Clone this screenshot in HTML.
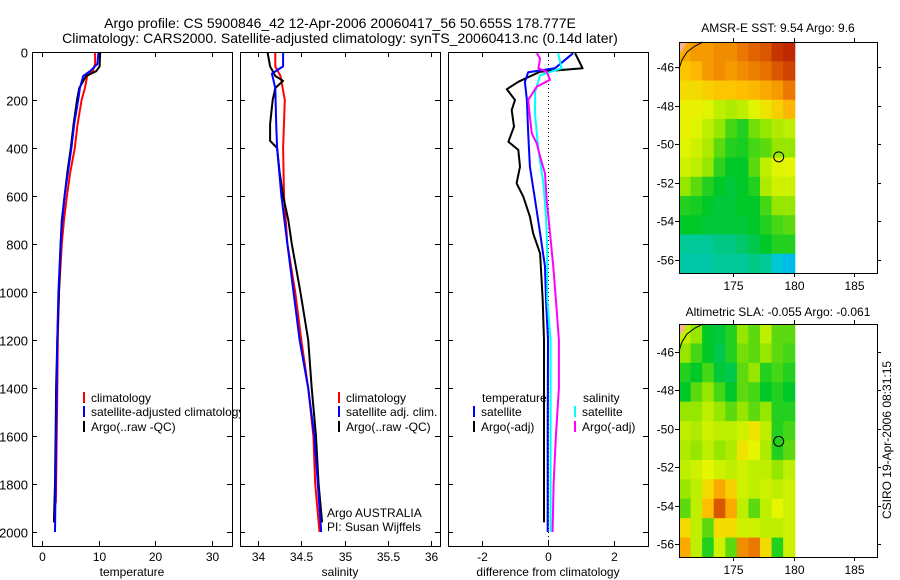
<!DOCTYPE html>
<html><head><meta charset="utf-8"><style>
html,body{margin:0;padding:0;background:#fff;}
svg{display:block;font-family:"Liberation Sans",sans-serif;}
text{fill:#000;}
</style></head><body>
<svg id="fig" width="900" height="580" viewBox="0 0 900 580">
<text x="340" y="28" font-size="14" text-anchor="middle">Argo profile: CS 5900846_42 12-Apr-2006 20060417_56 50.655S 178.777E</text>
<text x="340" y="43" font-size="14" text-anchor="middle">Climatology: CARS2000. Satellite-adjusted climatology: synTS_20060413.nc (0.14d later)</text>
<text x="778" y="32" font-size="12" text-anchor="middle">AMSR-E SST: 9.54  Argo: 9.6</text>
<text x="778" y="316" font-size="12" text-anchor="middle">Altimetric SLA: -0.055  Argo: -0.061</text>
<text transform="translate(891,440) rotate(-90)" font-size="12" text-anchor="middle">CSIRO 19-Apr-2006 08:31:15</text>
<g id="layer"></g>
</svg>
<script>
// ---- profile data ----
const tDepth = [0,50,80,100,150,200,300,400,500,600,700,800,1000,1200,1400,1600,1800,1880];
const tClim  = [9.4,9.4,9.0,8.0,7.6,7.0,6.3,5.8,5.0,4.4,3.9,3.5,3.0,2.8,2.7,2.6,2.5,2.45];
const tDepthS = [0,50,80,100,150,200,300,400,500,600,700,800,1000,1200,1400,1600,1800,2000];
const tSat   = [10.0,9.8,8.5,7.3,6.7,6.4,5.7,5.2,4.6,4.0,3.6,3.3,2.9,2.7,2.6,2.5,2.4,2.3];
const tDepthA = [0,60,80,100,150,200,300,400,500,600,700,800,1000,1200,1400,1600,1800,1960];
const tArgo  = [10.3,10.2,9.6,7.8,6.6,6.2,5.6,5.1,4.5,4.0,3.5,3.3,3.0,2.7,2.5,2.4,2.3,2.1];

const sDepthC = [0,60,100,200,400,600,800,1000,1200,1400,1600,1800,2000];
const sClim   = [34.2,34.2,34.26,34.31,34.29,34.3,34.34,34.43,34.5,34.58,34.64,34.66,34.71];
const sDepthS = [0,60,90,150,300,400,600,800,1000,1200,1400,1600,1800,2000];
const sSat    = [34.29,34.29,34.16,34.2,34.21,34.22,34.27,34.34,34.41,34.48,34.58,34.65,34.69,34.73];
const sDepthA = [0,60,100,120,150,200,300,370,400,500,600,700,800,1000,1200,1400,1600,1800,1960];
const sArgo   = [34.11,34.14,34.2,34.29,34.2,34.17,34.14,34.14,34.22,34.25,34.29,34.35,34.39,34.49,34.58,34.62,34.67,34.7,34.74];

const dDepthT = [5,68,82,124,155,200,242,311,374,408,478,547,603,686,755,839,1033,1200,1600,1960];
const dArgoT  = [0.82,1.05,-0.24,-0.9,-1.25,-1.0,-1.1,-1.03,-1.2,-0.9,-0.85,-0.95,-0.75,-0.55,-0.45,-0.24,-0.16,-0.12,-0.12,-0.12];
const dDepthST = [5,68,84,125,200,339,478,617,755,894,1033,1200,1600,2000];
const dSatT   = [0.76,0.21,-0.6,-0.7,-0.64,-0.6,-0.55,-0.39,-0.24,-0.09,-0.06,0.0,-0.01,-0.01];
const dDepthSS = [5,68,97,167,264,408,547,686,825,1033,1200,1600,2000];
const dSatS   = [0.31,0.41,-0.24,-0.39,-0.39,-0.29,-0.14,-0.06,-0.02,-0.02,0.08,0.08,0.08];
const dDepthAS = [5,27,68,82,116,144,200,269,339,381,436,506,617,755,894,1033,1200,1400,1600,1800,2000];
const dArgoS  = [-0.34,-0.24,-0.29,-0.04,0.06,-0.34,-0.6,-0.55,-0.49,-0.34,-0.24,-0.09,-0.04,0.06,0.16,0.24,0.33,0.33,0.24,0.17,0.14];

const depthTicks = [0,200,400,600,800,1000,1200,1400,1600,1800,2000];
const tTicks = [0,10,20,30];
const sTicks = [34,34.5,35,35.5,36];
const sTickLabels = ["34","34.5","35","35.5","36"];
const dTicks = [-2,0,2];

// ---- map data (values 0..1 on colormap), rows north->south ----
const sstGrid = [
[0.78,0.8,0.8,0.82,0.82,0.85,0.88,0.9,0.95,0.97],
[0.74,0.76,0.8,0.82,0.8,0.82,0.84,0.86,0.9,0.93],
[0.7,0.7,0.72,0.74,0.74,0.75,0.76,0.78,0.8,0.85],
[0.66,0.66,0.64,0.6,0.58,0.6,0.64,0.68,0.72,0.76],
[0.66,0.64,0.6,0.55,0.48,0.45,0.52,0.55,0.58,0.6],
[0.64,0.62,0.58,0.5,0.45,0.44,0.48,0.5,0.55,0.55],
[0.62,0.6,0.55,0.46,0.42,0.42,0.5,0.6,0.64,0.65],
[0.55,0.5,0.45,0.42,0.4,0.42,0.45,0.58,0.62,0.62],
[0.45,0.44,0.42,0.4,0.4,0.42,0.42,0.48,0.55,0.55],
[0.42,0.42,0.4,0.4,0.4,0.4,0.42,0.45,0.48,0.5],
[0.3,0.3,0.3,0.32,0.32,0.35,0.38,0.42,0.45,0.45],
[0.28,0.28,0.28,0.3,0.3,0.3,0.32,0.3,0.22,0.18]];
const slaGrid = [
[0.6,0.55,0.42,0.4,0.45,0.55,0.5,0.6,0.5,0.5],
[0.55,0.48,0.42,0.38,0.45,0.52,0.5,0.55,0.5,0.48],
[0.45,0.42,0.48,0.4,0.38,0.5,0.55,0.45,0.48,0.45],
[0.42,0.5,0.55,0.48,0.42,0.5,0.48,0.42,0.45,0.42],
[0.55,0.55,0.6,0.55,0.5,0.55,0.5,0.55,0.45,0.45],
[0.6,0.58,0.62,0.6,0.6,0.62,0.68,0.6,0.45,0.48],
[0.58,0.55,0.6,0.55,0.58,0.68,0.65,0.58,0.45,0.5],
[0.6,0.62,0.65,0.62,0.6,0.62,0.6,0.6,0.55,0.6],
[0.55,0.6,0.7,0.78,0.72,0.62,0.6,0.62,0.6,0.62],
[0.5,0.6,0.75,0.9,0.78,0.6,0.5,0.6,0.65,0.62],
[0.7,0.6,0.5,0.7,0.7,0.62,0.62,0.6,0.6,0.62],
[0.78,0.6,0.45,0.62,0.5,0.82,0.85,0.7,0.45,0.62]];
const lonTicks = [175,180,185];
const latTicks = [-46,-48,-50,-52,-54,-56];
const argoLon = 178.777, argoLat = -50.655;

const NS = "http://www.w3.org/2000/svg";
const L = document.getElementById('layer');
function mk(tag, attrs, parent){ const e=document.createElementNS(NS,tag); for(const k in attrs) e.setAttribute(k,attrs[k]); (parent||L).appendChild(e); return e; }

// depth axis shared
const yTop=52, yBot=546;
const yD = d => 52 + d*0.24;

function panel(name, x0, x1, xs, ticks, labels, xlabel){
  const g = mk('g',{});
  
  
  const bg = mk('rect',{x:x0,y:yTop,width:x1-x0,height:yBot-yTop,fill:'#fff'},g);
  
  
  return g;
}
function frame(g, name, x0, x1, xs, ticks, labels, xlabel, showDepthLabels){
  const fr = mk('rect',{x:x0+0.5,y:yTop+0.5,width:x1-x0,height:yBot-yTop,fill:'none',stroke:'#000','stroke-width':1},g);
  
  
  depthTicks.forEach(d=>{
    const y=Math.round(yD(d))+0.5;
    const t1=mk('line',{x1:x0,x2:x0+5,y1:y,y2:y,stroke:'#000'},g);
    
    
    const t2=mk('line',{x1:x1-5,x2:x1,y1:y,y2:y,stroke:'#000'},g);
    
    
    if(showDepthLabels){
      const tx=mk('text',{x:x0-4,y:y+5,'font-size':13,'text-anchor':'end'},g);
      tx.textContent=d;
      
      
    }
  });
  ticks.forEach((v,i)=>{
    const x=Math.round(xs(v))+0.5;
    const a=mk('line',{x1:x,x2:x,y1:yTop,y2:yTop+5,stroke:'#000'},g);
    
    
    const b=mk('line',{x1:x,x2:x,y1:yBot-5,y2:yBot,stroke:'#000'},g);
    
    
    const t=mk('text',{x:x,y:yBot+15,'font-size':12,'text-anchor':'middle'},g);
    t.textContent=labels[i];
    
    
  });
  const xl=mk('text',{x:(x0+x1)/2,y:yBot+30,'font-size':12,'text-anchor':'middle'},g);
  xl.textContent=xlabel;
  
  
}
function series(g, name, depths, vals, xs, color, w){
  const pts = depths.map((d,i)=> xs(vals[i]).toFixed(1)+','+yD(d).toFixed(1)).join(' ');
  const p = mk('polyline',{points:pts,fill:'none',stroke:color,'stroke-width':w,'stroke-linejoin':'round'},g);
  
  
}
function legend(g, x, y, color, label){
  const l=mk('line',{x1:x,x2:x,y1:y-10,y2:y+1,stroke:color,'stroke-width':2},g);
  
  
  if(label){
    const t=mk('text',{x:x+7,y:y,'font-size':12},g);
    t.textContent=label;
    
    
  }
}

// Panel 1 temperature
const xT = v => 42 + v*5.65;
const g1 = panel('temperature-panel',32,232);
series(g1,'temperature-climatology-line',tDepth,tClim,xT,'#ff0000',2);
series(g1,'temperature-argo-line',tDepthA,tArgo,xT,'#000',2);
series(g1,'temperature-satellite-line',tDepthS,tSat,xT,'#0000ff',2);
legend(g1,84,402,'#ff0000','climatology');
legend(g1,84,416,'#0000ff','satellite-adjusted climatology');
legend(g1,84,431,'#000','Argo(..raw -QC)');
frame(g1,'temperature-panel',32,232,xT,tTicks,tTicks.map(String),'temperature',true);

// Panel 2 salinity
const xS = v => 258 + (v-34)*86.6;
const g2 = panel('salinity-panel',240,440);
series(g2,'salinity-climatology-line',sDepthC,sClim,xS,'#ff0000',2);
series(g2,'salinity-argo-line',sDepthA,sArgo,xS,'#000',2);
series(g2,'salinity-satellite-line',sDepthS,sSat,xS,'#0000ff',2);
legend(g2,339,402,'#ff0000','climatology');
legend(g2,339,416,'#0000ff','satellite adj. clim.');
legend(g2,339,431,'#000','Argo(..raw -QC)');
let tA=mk('text',{x:327,y:517,'font-size':12},g2); tA.textContent='Argo AUSTRALIA';


let tP=mk('text',{x:327,y:531,'font-size':12},g2); tP.textContent='PI: Susan Wijffels';


frame(g2,'salinity-panel',240,440,xS,sTicks,sTickLabels,'salinity',false);

// Panel 3 differences
const xDf = v => 548 + v*33;
const g3 = panel('difference-panel',448,648);
const zl=mk('line',{x1:548.5,x2:548.5,y1:yTop,y2:yBot,stroke:'#000','stroke-dasharray':'1,3'},g3);


series(g3,'temp-argo-diff-line',dDepthT,dArgoT,xDf,'#000',2);
series(g3,'temp-satellite-diff-line',dDepthST,dSatT,xDf,'#0000ff',2);
series(g3,'sal-satellite-diff-line',dDepthSS,dSatS,xDf,'#00ffff',2);
series(g3,'sal-argo-diff-line',dDepthAS,dArgoS,xDf,'#ff00ff',2);
let th=mk('text',{x:482,y:402,'font-size':12},g3); th.textContent='temperature';


let sh=mk('text',{x:583,y:402,'font-size':12},g3); sh.textContent='salinity';


legend(g3,474,416,'#0000ff','satellite');
legend(g3,474,431,'#000','Argo(-adj)');
legend(g3,575,416,'#00ffff','satellite');
legend(g3,575,431,'#ff00ff','Argo(-adj)');
frame(g3,'difference-panel',448,648,xDf,dTicks,dTicks.map(String),'difference from climatology',false);

// ---- maps ----
function cmap(v){
  const stops=[[0,[0,80,255]],[0.2,[0,200,230]],[0.3,[0,200,150]],[0.42,[0,200,40]],[0.55,[150,230,0]],[0.65,[230,245,0]],[0.75,[255,190,0]],[0.85,[235,120,0]],[1,[180,20,0]]];
  for(let i=1;i<stops.length;i++){ if(v<=stops[i][0]){ const a=stops[i-1],b=stops[i],t=(v-a[0])/(b[0]-a[0]); return 'rgb('+a[1].map((c,k)=>Math.round(c+(b[1][k]-c)*t)).join(',')+')'; } }
  return 'rgb(180,20,0)';
}
function mapPanel(name, top, bot, lat46y, lat56y, grid){
  const g=mk('g',{});
  
  
  const x0=679,x1=877;
  const xL = lon => 733 + (lon-175)*12.1;
  const yL = lat => lat46y + (-46-lat)*(lat56y-lat46y)/10;
  const dataR = xL(180.1);
  const rows=grid.length, cols=grid[0].length;
  const cw=(dataR-x0)/cols, ch=(bot-top)/rows;
  grid.forEach((row,r)=>row.forEach((v,c)=>{
    const cell=mk('rect',{x:(x0+c*cw).toFixed(2),y:(top+r*ch).toFixed(2),width:(cw+0.6).toFixed(2),height:(ch+0.6).toFixed(2),fill:cmap(v)},g);
    
    
  }));
  const land=mk('polygon',{points:`${x0},${top} ${x0+8},${top} ${x0+4},${top+8} ${x0},${top+12}`,fill:'#f5b090'},g);
  
  
  const coast=mk('polyline',{points:`${x0},${top+27} ${x0+3},${top+18} ${x0+8},${top+10} ${x0+16},${top+4} ${x0+24},${top}`,fill:'none',stroke:'#000','stroke-width':1},g);
  
  
  const fr=mk('rect',{x:x0+0.5,y:top+0.5,width:x1-x0,height:bot-top,fill:'none',stroke:'#000'},g);
  
  
  lonTicks.forEach(lon=>{
    const x=Math.round(xL(lon))+0.5;
    const a=mk('line',{x1:x,x2:x,y1:top-4,y2:top,stroke:'#000'},g);
    
    
    const b=mk('line',{x1:x,x2:x,y1:bot,y2:bot+4,stroke:'#000'},g);
    
    
    const t=mk('text',{x:x,y:bot+17,'font-size':12,'text-anchor':'middle'},g);
    t.textContent=lon;
    
    
  });
  latTicks.forEach(lat=>{
    const y=Math.round(yL(lat))+0.5;
    const a=mk('line',{x1:x0-4,x2:x0,y1:y,y2:y,stroke:'#000'},g);
    
    
    const b=mk('line',{x1:x1,x2:x1+4,y1:y,y2:y,stroke:'#000'},g);
    
    
    const t=mk('text',{x:x0-5,y:y+4,'font-size':12,'text-anchor':'end'},g);
    t.textContent=lat;
    
    
  });
  const c=mk('circle',{cx:xL(argoLon),cy:yL(argoLat),r:5,fill:'none',stroke:'#000'},g);
  
  
}
mapPanel('sst-map',42,273,67,260,sstGrid);
mapPanel('sla-map',324,557,352,544,slaGrid);
</script>
</body></html>
